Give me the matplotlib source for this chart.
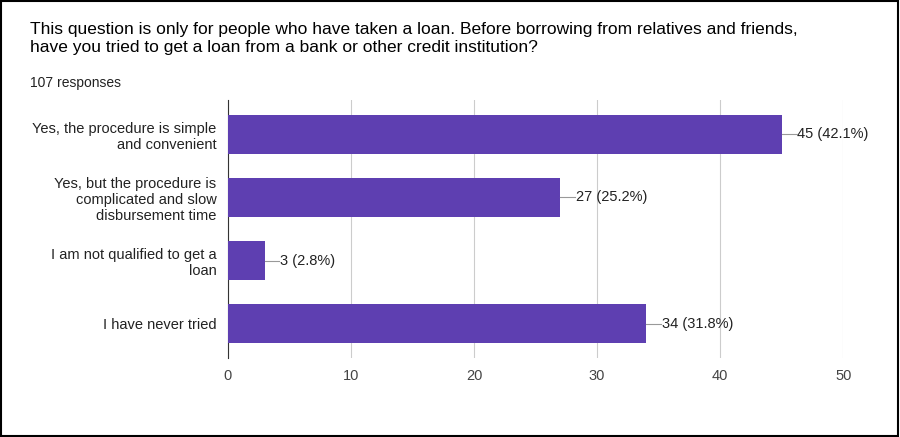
import matplotlib
matplotlib.use("Agg")
import matplotlib.pyplot as plt
from matplotlib.patches import Rectangle

categories = ["Yes, the procedure is simple\nand convenient",
              "Yes, but the procedure is\ncomplicated and slow\ndisbursement time",
              "I am not qualified to get a\nloan",
              "I have never tried"]
counts = [45, 27, 3, 34]
percents = [42.1, 25.2, 2.8, 31.8]
ticks = [0, 10, 20, 30, 40, 50]

plt.rcParams['font.family'] = ['Liberation Sans', 'DejaVu Sans']
fig = plt.figure(figsize=(9, 4.37), dpi=100)
fig.patches.append(Rectangle((0.001, 0.002), 0.997, 0.995, transform=fig.transFigure,
                             fill=False, edgecolor='black', linewidth=1.5))
fig.text(0.033, 0.95, "This question is only for people who have taken a loan. Before borrowing from relatives and friends,\nhave you tried to get a loan from a bank or other credit institution?",
         fontsize=12.5, va='top', ha='left', linespacing=1.3)
fig.text(0.033, 0.81, "107 responses", fontsize=10, va='center', ha='left', color='#222222')

ax = fig.add_axes([0.253, 0.18, 0.684, 0.592])
y = list(range(len(categories)))
ax.barh(y, counts, height=0.62, color='#5e3fb1', zorder=3)
ax.set_ylim(3.55, -0.55)
ax.set_xlim(0, 50)
ax.set_xticks(ticks)
ax.set_xticklabels([str(t) for t in ticks], fontsize=10.5, color='#444444')
ax.set_yticks(y)
ax.set_yticklabels(categories, fontsize=10.5, color='#222222', ha='right')
ax.tick_params(length=0, pad=8)
ax.grid(axis='x', color='#cccccc', linewidth=0.8, zorder=0)
for s in ['top', 'right', 'bottom']:
    ax.spines[s].set_visible(False)
ax.spines['left'].set_color('#333333')
for yi, c, p in zip(y, counts, percents):
    ax.plot([c, c + 1.2], [yi, yi], color='#999999', linewidth=0.8, zorder=4)
    ax.text(c + 1.25, yi, f"{c} ({p}%)", va='center', ha='left', fontsize=10.5, color='#222222')
fig.savefig("out.png", dpi=100)
